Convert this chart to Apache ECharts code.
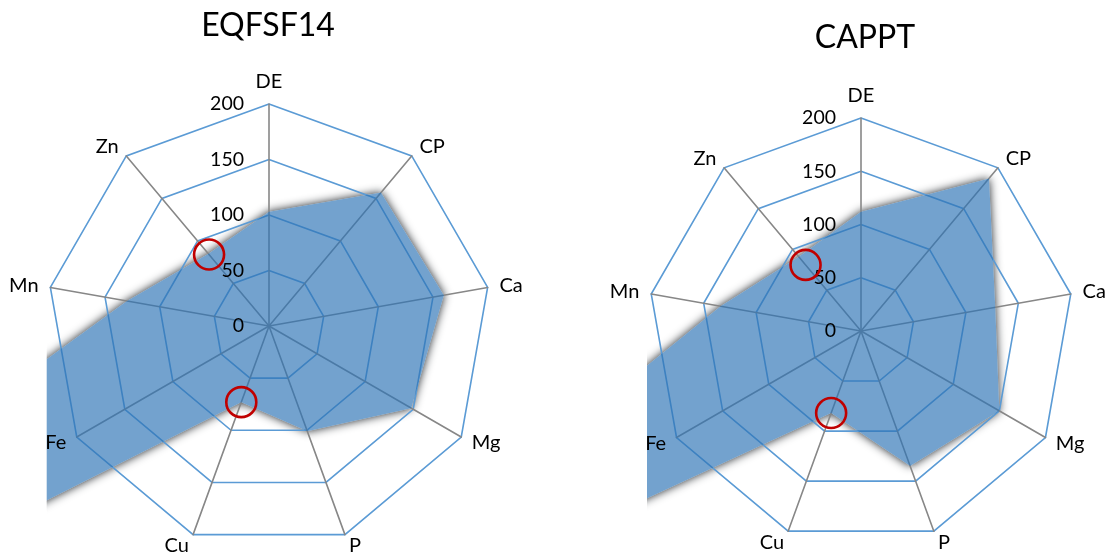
<!DOCTYPE html>
<html>
<head>
<meta charset="utf-8">
<script src="https://cdn.jsdelivr.net/npm/echarts@6/dist/echarts.min.js"></script>
<style>
  html, body { margin: 0; padding: 0; background: #fff; }
  #wrap { position: relative; width: 1108px; height: 554px; overflow: hidden; }
  .panel { position: absolute; top: 0; width: 554px; height: 554px; }
</style>
</head>
<body>
<div id="wrap">
  <div id="left" class="panel" style="left:0"></div>
  <div id="right" class="panel" style="left:554px"></div>
</div>
<script>
// Nutrient axes, listed clockwise from the top
const nutrients = ['DE', 'CP', 'Ca', 'Mg', 'P', 'Cu', 'Fe', 'Mn', 'Zn'];
// Radial scale ticks
const tickValues = [0, 50, 100, 150, 200];
// Supply as % of requirement for each diet
const eqfsf14 = [103, 157, 160, 148, 101, 73, 900, 130, 85];
const cappt = [112, 187, 128, 150, 135, 82, 650, 134, 91];
// Red rings drawn on each chart: [nutrient, level]
const eqfsf14Rings = [['Zn', 84], ['Cu', 73]];
const capptRings = [['Zn', 81], ['Cu', 82]];

const FONT = 'Lato, "Open Sans", sans-serif';

// ECharts places indicators counter-clockwise, so walk the list backwards after the first
const order = [0].concat(nutrients.slice(1).map((_, i) => nutrients.length - 1 - i));

function buildChart(el, title, values, rings, layout) {
  const chart = echarts.init(el, null, { renderer: 'canvas' });
  const maxV = tickValues[tickValues.length - 1];
  const makeIndicators = withLabel => order.map((k, i) => {
    const ind = { name: nutrients[k], min: tickValues[0], max: maxV };
    if (withLabel && i === 0) ind.axisLabel = { show: true };
    return ind;
  });
  const ordered = order.map(k => values[k]);
  const common = {
    center: layout.center,
    radius: layout.radius,
    startAngle: 90,
    shape: 'polygon',
    splitNumber: tickValues.length - 1,
    nameGap: 12,
    splitArea: { show: false },
    axisTick: { show: false }
  };

  chart.setOption({
    animation: false,
    title: {
      text: title,
      left: layout.titleX,
      top: layout.titleTop,
      textAlign: 'center',
      padding: 0,
      textStyle: { fontFamily: FONT, fontSize: 32, fontWeight: 'normal', color: '#000' }
    },
    radar: [
      // grid: rings and spokes, under the filled area
      Object.assign({}, common, {
        z: 2,
        indicator: makeIndicators(false),
        axisName: { show: false },
        axisLine: { lineStyle: { color: '#878787', width: 1.6 } },
        splitLine: { lineStyle: { color: '#5B9BD5', width: 1.6 } },
        axisLabel: { show: false }
      }),
      // names and scale labels, above the filled area
      Object.assign({}, common, {
        z: 10,
        silent: true,
        indicator: makeIndicators(true),
        axisName: { color: '#000', fontSize: 20, fontFamily: FONT },
        axisLine: { show: false },
        splitLine: { show: false },
        axisLabel: { show: false, color: '#000', fontSize: 19.5, fontFamily: FONT, margin: 25 }
      })
    ],
    series: [
      {
        // soft shadow behind the grid
        type: 'radar', radarIndex: 0, z: 1, silent: true, symbol: 'none',
        lineStyle: { width: 0, opacity: 0 },
        areaStyle: { color: '#fff', opacity: 1, shadowBlur: 10, shadowColor: 'rgba(30,35,40,1)' },
        data: [{ value: ordered }]
      },
      {
        type: 'radar', radarIndex: 0, z: 3, silent: true, symbol: 'none',
        lineStyle: { width: 0, opacity: 0 },
        areaStyle: { color: 'rgb(46,117,182)', opacity: 0.67 },
        data: [{ value: ordered }]
      }
    ]
  });

  const cs = chart.getModel().getComponent('radar', 0).coordinateSystem;
  const graphics = [{
    type: 'rect', z: 100, silent: true,
    shape: layout.mask,
    style: { fill: '#fff' }
  }];
  rings.forEach(([name, level]) => {
    const k = nutrients.indexOf(name);
    const p = cs.dataToPoint(level, order.indexOf(k));
    graphics.push({
      type: 'circle', z: 120, silent: true,
      shape: { cx: p[0], cy: p[1], r: 15 },
      style: { fill: 'none', stroke: '#C00000', lineWidth: 2.6 }
    });
  });
  chart.setOption({ graphic: graphics });
  return chart;
}

buildChart(document.getElementById('left'), 'EQFSF14', eqfsf14, eqfsf14Rings, {
  center: [269, 326], radius: 222, titleX: 268, titleTop: 10,
  mask: { x: 0, y: 305, width: 46.7, height: 260 }
});
buildChart(document.getElementById('right'), 'CAPPT', cappt, capptRings, {
  center: [307, 331], radius: 213, titleX: 311, titleTop: 22,
  mask: { x: 0, y: 310, width: 93, height: 260 }
});
</script>
</body>
</html>
